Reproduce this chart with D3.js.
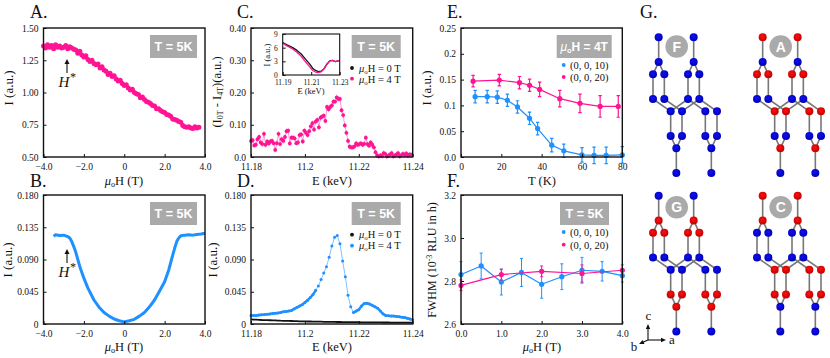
<!DOCTYPE html>
<html>
<head>
<meta charset="utf-8">
<script src="https://d3js.org/d3.v7.min.js"></script>
<style>
  body { margin: 0; background: #fff; }
  svg { display: block; }
  text { font-family: "Liberation Serif", serif; fill: #111; }
</style>
</head>
<body>
<script>
var pink = '#ff1493';
var blue = '#1e90ff';

// panel A
var fieldA = d3.range(-40, 38).map(function(d) { return d / 10; });
var intensityA = [1.36,1.345,1.37,1.35,1.365,1.34,1.37,1.35,1.36,1.345,1.35,1.365,1.34,1.355,1.345,1.335,1.33,1.305,1.32,1.29,1.275,1.285,1.255,1.24,1.25,1.225,1.215,1.22,1.19,1.2,1.175,1.165,1.14,1.15,1.125,1.13,1.105,1.09,1.095,1.07,1.055,1.06,1.035,1.02,1.025,1.0,0.99,0.985,0.96,0.965,0.945,0.93,0.925,0.915,0.9,0.895,0.875,0.875,0.86,0.85,0.845,0.83,0.825,0.815,0.795,0.79,0.785,0.775,0.77,0.745,0.735,0.73,0.735,0.725,0.72,0.735,0.725,0.73];
// panel B
var fieldB = [-3.5,-3.4,-3.2,-3,-2.8,-2.7,-2.6,-2.5,-2.4,-2.2,-2,-1.8,-1.5,-1.25,-1,-0.75,-0.5,-0.25,0,0.25,0.5,0.75,1,1.25,1.5,1.75,2,2.2,2.4,2.5,2.6,2.7,2.8,3,3.2,3.4,3.6,3.8,4];
var intensityB = [0.1225,0.1245,0.1235,0.124,0.122,0.12,0.115,0.108,0.1,0.08,0.064,0.05,0.0335,0.0235,0.016,0.011,0.007,0.0045,0.003,0.0045,0.0065,0.011,0.016,0.024,0.0335,0.046,0.059,0.075,0.096,0.106,0.115,0.12,0.123,0.124,0.1245,0.124,0.125,0.1255,0.1265];
// panel C
var energyC = d3.range(0, 100).map(function(d) { return 11.18 + d * 0.0006; });
var diffC = [0.05,0.052,0.036,0.038,0.055,0.062,0.045,0.04,0.072,0.038,0.048,0.042,0.048,0.05,0.043,0.022,0.043,0.072,0.04,0.055,0.05,0.062,0.08,0.082,0.042,0.06,0.06,0.058,0.043,0.045,0.068,0.07,0.048,0.082,0.075,0.068,0.08,0.095,0.105,0.085,0.11,0.115,0.092,0.122,0.125,0.128,0.112,0.155,0.148,0.155,0.16,0.172,0.172,0.185,0.18,0.18,0.145,0.13,0.098,0.075,0.05,0.032,0.03,0.03,0.033,0.042,0.038,0.04,0.042,0.038,0.041,0.06,0.04,0.035,0.045,0.038,0.03,0.015,0.005,0.002,0.005,0.003,0.012,0.01,0.002,0.004,0.008,0.012,0.002,0.005,0.008,0.012,0.002,0.006,0.01,0.006,0.011,0.004,0.008,0.007];
// panel C inset
var energyInset = [11.19,11.193,11.197,11.2,11.203,11.206,11.209,11.211,11.213,11.215,11.217,11.219,11.221,11.223,11.225,11.227,11.23];
var insetZero = [7.1,6.6,6,5.4,4.6,3.5,2.4,1.5,1,0.75,0.85,1.4,2.4,3.1,3.2,2.95,3.2];
var insetFour = [7,6.4,5.7,5,4.1,2.9,1.8,1,0.65,0.55,0.7,1.3,2.3,3.05,3.2,2.95,3.2];
// panel D
var energyD = d3.range(0, 61).map(function(d) { return 11.18 + d * 0.001; });
var zeroD = [0.0065,0.0062,0.006,0.0058,0.0056,0.0055,0.0053,0.0052,0.005,0.005,0.0048,0.0046,0.0045,0.0045,0.0043,0.0042,0.004,0.004,0.0038,0.0037,0.0036,0.0035,0.0035,0.0034,0.0033,0.0032,0.0032,0.0031,0.003,0.003,0.003,0.0029,0.0028,0.0028,0.0027,0.0027,0.0026,0.0026,0.0025,0.0025,0.0025,0.0024,0.0024,0.0023,0.0023,0.0023,0.0022,0.0022,0.0022,0.0021,0.0021,0.0021,0.002,0.002,0.002,0.002,0.002,0.002,0.002,0.002,0.002];
var fourD = [0.012,0.012,0.012,0.0125,0.013,0.0132,0.0135,0.014,0.0145,0.015,0.0155,0.016,0.017,0.0175,0.018,0.019,0.021,0.023,0.025,0.027,0.03,0.033,0.037,0.041,0.047,0.053,0.062,0.071,0.08,0.093,0.109,0.121,0.1235,0.112,0.088,0.066,0.04,0.024,0.016,0.018,0.02,0.025,0.0285,0.029,0.028,0.026,0.024,0.022,0.018,0.014,0.012,0.0115,0.011,0.011,0.0105,0.01,0.0095,0.009,0.008,0.007,0.006];
// panel E
var tempBlue = [7,13,18,23,28,34,38,45,51,60,66,72,80];
var peak10 = [0.117,0.117,0.116,0.11,0.097,0.075,0.055,0.023,0.012,0.004,0.003,0.003,0.004];
var peak10Err = [0.012,0.012,0.012,0.012,0.012,0.012,0.012,0.013,0.013,0.014,0.016,0.016,0.016];
var tempPink = [6,19,29,34,39,49,59,69,78];
var peak20 = [0.147,0.149,0.144,0.139,0.131,0.113,0.104,0.098,0.098];
var peak20Err = [0.011,0.011,0.012,0.012,0.014,0.016,0.018,0.021,0.021];
// panel F
var fieldBlue = [0,0.5,1,1.5,2,2.5,3,3.5,4];
var fwhm10 = [2.83,2.87,2.795,2.84,2.785,2.82,2.85,2.845,2.825];
var fwhm10Err = [0.06,0.06,0.06,0.065,0.065,0.06,0.06,0.045,0.03];
var fieldPink = [0,1,2,3,4];
var fwhm20 = [2.78,2.83,2.845,2.835,2.85];
var fwhm20Err = [0.025,0.025,0.025,0.04,0.025];
// panel G, atoms measured in the picture
var atomX = [71,176,71,176,54,88,159,193,54,88,159,193,107,141,211,246,107,141,211,246,124,229,124,229];
var atomY = [112,112,186,186,223,223,223,223,297,297,297,297,334,334,334,334,408,408,408,408,445,445,519,519];
var atomLayer = [0,0,1,1,2,2,2,2,3,3,3,3,4,4,4,4,5,5,5,5,6,6,7,7];
var bondPairs = [[0,2],[1,3],[2,4],[2,5],[3,6],[3,7],[4,8],[5,9],[6,10],[7,11],[8,12],[9,13],[10,12],[11,13],[10,14],[11,15],[12,16],[13,17],[14,18],[15,19],[16,20],[17,20],[18,21],[19,21],[20,22],[21,23]];
var structures = [
  {name: 'F', dx: 0, dy: 0, layers: 'bbbbbbbb'},
  {name: 'A', dx: 104, dy: 0, layers: 'rbrbrbrb'},
  {name: 'G', dx: 0, dy: 158.4, layers: 'brrbbrrb'},
  {name: 'C', dx: 104, dy: 158.4, layers: 'rrbbrrbb'}
];

var svg = d3.select('body').append('svg').attr('width', 830).attr('height', 358);

var defs = svg.append('defs');
[['redBall', '#ff1010', '#c00000'], ['blueBall', '#1010f0', '#0000b8']].forEach(function(g) {
  var grad = defs.append('radialGradient').attr('id', g[0]).attr('cx', '45%').attr('cy', '40%').attr('r', '60%');
  grad.append('stop').attr('offset', '0%').attr('stop-color', g[1]);
  grad.append('stop').attr('offset', '100%').attr('stop-color', g[2]);
});

function panel(left, right, top, bottom, xDomain, yDomain, xTicks, yTicks, xFmt, yFmt, fontSize) {
  var size = fontSize || 9.5;
  var x = d3.scaleLinear().domain(xDomain).range([left, right]);
  var y = d3.scaleLinear().domain(yDomain).range([bottom, top]);
  var g = svg.append('g');
  var marks = g.append('g');
  var xAxis = d3.axisBottom(x).tickValues(xTicks).tickFormat(xFmt).tickSizeInner(-3).tickSizeOuter(0).tickPadding(size > 8 ? 6 : 5);
  var yAxis = d3.axisLeft(y).tickValues(yTicks).tickFormat(yFmt).tickSizeInner(-3).tickSizeOuter(0).tickPadding(5);
  var ax = g.append('g').attr('transform', 'translate(0,' + bottom + ')').call(xAxis);
  var ay = g.append('g').attr('transform', 'translate(' + left + ',0)').call(yAxis);
  [ax, ay].forEach(function(a) {
    a.select('.domain').remove();
    a.selectAll('line').attr('stroke', '#111').attr('stroke-width', 1);
    a.selectAll('text').style('font-family', '"Liberation Serif", serif').style('font-size', size + 'px').attr('fill', '#111');
  });
  g.append('rect').attr('x', left).attr('y', top).attr('width', right - left).attr('height', bottom - top)
    .attr('fill', 'none').attr('stroke', '#111').attr('stroke-width', size > 8 ? 1.4 : 1.1);
  return {x: x, y: y, g: g, marks: marks};
}

function drawLine(p, xs, ys, color, width, opacity) {
  var line = d3.line().x(function(d) { return p.x(d[0]); }).y(function(d) { return p.y(d[1]); });
  p.marks.append('path').attr('d', line(d3.zip(xs, ys))).attr('fill', 'none').attr('stroke', color)
    .attr('stroke-width', width).attr('stroke-opacity', opacity || 1).attr('stroke-linejoin', 'round');
}

function drawDots(p, xs, ys, color, r) {
  p.marks.selectAll(null).data(d3.zip(xs, ys)).enter().append('circle')
    .attr('cx', function(d) { return p.x(d[0]); })
    .attr('cy', function(d) { return p.y(d[1]); })
    .attr('r', r).attr('fill', color);
}

function drawErrors(p, xs, ys, errs, color, cap, width) {
  d3.zip(xs, ys, errs).forEach(function(d) {
    var px = p.x(d[0]);
    p.marks.append('path')
      .attr('d', 'M' + px + ',' + p.y(d[1] - d[2]) + 'V' + p.y(d[1] + d[2]) +
        'M' + (px - cap) + ',' + p.y(d[1] - d[2]) + 'h' + (2 * cap) +
        'M' + (px - cap) + ',' + p.y(d[1] + d[2]) + 'h' + (2 * cap))
      .attr('fill', 'none').attr('stroke', color).attr('stroke-width', width);
  });
}

function label(x, y, str, size, rotate) {
  var t = svg.append('text').attr('font-size', size).attr('text-anchor', 'middle');
  if (rotate) t.attr('transform', 'translate(' + x + ',' + y + ') rotate(-90)');
  else t.attr('x', x).attr('y', y);
  return t.text(str);
}

function fieldLabel(x, y, rest, size, anchor) {
  var t = svg.append('text').attr('x', x).attr('y', y).attr('font-size', size).attr('text-anchor', anchor || 'middle');
  t.append('tspan').attr('font-style', 'italic').text('μ');
  t.append('tspan').attr('font-size', size * 0.65).attr('dy', 2).text('o');
  t.append('tspan').attr('dy', -2).text(rest);
}

function title(x, y, str) {
  svg.append('text').attr('x', x).attr('y', y).attr('font-size', 18).text(str);
}

function badge(x, y, w, h, str) {
  svg.append('rect').attr('x', x).attr('y', y).attr('width', w).attr('height', h).attr('fill', '#aaaaaa');
  svg.append('text').attr('x', x + w / 2).attr('y', y + h / 2 + 4.3).attr('text-anchor', 'middle')
    .style('font-family', '"Liberation Sans", sans-serif').style('fill', '#fff')
    .attr('font-size', 12.5).attr('font-weight', 'bold').text(str);
}

function legendDot(x, y, color) {
  svg.append('circle').attr('cx', x).attr('cy', y).attr('r', 1.9).attr('fill', color);
}

function arrowAt(x, y0, y1) {
  var dir = y1 < y0 ? 1 : -1;
  svg.append('line').attr('x1', x).attr('x2', x).attr('y1', y0).attr('y2', y1 + dir * 3).attr('stroke', '#111').attr('stroke-width', 1.1);
  svg.append('path').attr('d', 'M' + x + ',' + y1 + 'l-2.5,' + (dir * 5) + 'h5z').attr('fill', '#111');
}

function hStar(x, y) {
  var t = svg.append('text').attr('x', x).attr('y', y).attr('font-size', 15).attr('font-style', 'italic').attr('text-anchor', 'middle');
  t.append('tspan').text('H');
  t.append('tspan').attr('font-size', 12).attr('dy', -6).text('*');
}

var f1 = d3.format('.1f');
var f2 = d3.format('.2f');
var f3 = function(d) { return d === 0 ? '0' : d3.format('.3f')(d); };
var fieldFmt = function(d) { return d === 0 ? '0' : d3.format('.1f')(d); };
var energyFmt = function(d) { return d3.format('.2f')(d).replace(/(\.\d)0$/, '$1'); };

// A
var pA = panel(43.5, 205, 28, 157, [-4, 4], [0.5, 1.5], [-4, -2, 0, 2, 4], [0.5, 0.75, 1, 1.25, 1.5], fieldFmt, f2);
drawLine(pA, fieldA, intensityA, pink, 3);
drawDots(pA, fieldA, intensityA, pink, 2.5);
title(30, 18, 'A.');
badge(150, 35, 47, 23, 'T = 5K');
label(13, 88, 'I (a.u.)', 13, true);
fieldLabel(124, 185, 'H (T)', 12.5);
arrowAt(67, 73, 59);
hStar(67, 87);

// B
var pB = panel(43.5, 205, 195, 324, [-4, 4], [0, 0.18], [-4, -2, 0, 2, 4], [0, 0.045, 0.09, 0.135, 0.18], fieldFmt, f3);
drawLine(pB, fieldB, intensityB, blue, 3);
title(30, 187, 'B.');
badge(150, 202, 47, 23, 'T = 5K');
label(12, 260, 'I (a.u.)', 13, true);
fieldLabel(124, 351, 'H (T)', 12.5);
arrowAt(67, 263, 249);
hStar(67, 277);

// C
var pC = panel(251, 412.7, 28, 157, [11.18, 11.24], [0, 0.4], [11.18, 11.2, 11.22, 11.24], [0, 0.1, 0.2, 0.3, 0.4], energyFmt, function(d) { return d === 0 ? '0.0' : d3.format('.2f')(d); });
drawLine(pC, energyC, diffC, pink, 0.6, 0.7);
drawErrors(pC, energyC, diffC, diffC.map(function() { return 0.008; }), pink, 0, 0.5);
drawDots(pC, energyC, diffC, pink, 1.9);
title(237, 18, 'C.');
badge(351.7, 35, 49, 23, 'T = 5K');
var cY = svg.append('text').attr('transform', 'translate(221,92) rotate(-90)').attr('font-size', 12.5).attr('text-anchor', 'middle');
cY.append('tspan').text('(I');
cY.append('tspan').attr('font-size', 8).attr('dy', 2).text('0T');
cY.append('tspan').attr('dy', -2).text(' - I');
cY.append('tspan').attr('font-size', 8).attr('dy', 2).text('4T');
cY.append('tspan').attr('dy', -2).text(')(a.u.)');
label(332, 185, 'E (keV)', 12.5);
legendDot(352, 68, '#111');
fieldLabel(359, 71.5, 'H = 0  T', 10.5, 'start');
legendDot(352, 78.7, pink);
fieldLabel(359, 82.5, 'H = 4  T', 10.5, 'start');

// C inset
var pI = panel(282.7, 339.7, 34, 75, [11.19, 11.23], [0, 9], [11.19, 11.21, 11.23], [0, 3, 6, 9], d3.format('.2f'), d3.format('d'), 7.5);
drawLine(pI, energyInset, insetZero, '#111', 1.3);
drawLine(pI, energyInset, insetFour, pink, 1.3);
label(270, 55, 'I (a.u.)', 8.5, true);
label(311, 94, 'E (keV)', 8.5);

// D, the tails of the scan are so dense that they read as a thick line
var tailD = fourD.map(function(d, i) { return energyD[i] < 11.205 || energyD[i] > 11.217 ? d : null; });
var pD = panel(251, 412.7, 195, 324, [11.18, 11.24], [0, 0.18], [11.18, 11.2, 11.22, 11.24], [0, 0.045, 0.09, 0.135, 0.18], energyFmt, f3);
drawLine(pD, energyD, zeroD, '#111', 1.8);
drawLine(pD, energyD, fourD, blue, 0.8, 0.7);
pD.marks.append('path')
  .attr('d', d3.line().defined(function(d) { return d[1] !== null; })
    .x(function(d) { return pD.x(d[0]); }).y(function(d) { return pD.y(d[1]); })(d3.zip(energyD, tailD)))
  .attr('fill', 'none').attr('stroke', blue).attr('stroke-width', 2.5).attr('stroke-linejoin', 'round');
drawDots(pD, energyD, fourD, blue, 1.5);
title(237, 187, 'D.');
badge(351.7, 202, 49, 23, 'T = 5K');
label(217, 260, 'I (a.u.)', 13, true);
label(332, 351, 'E (keV)', 12.5);
legendDot(352, 234.7, '#111');
fieldLabel(359, 238, 'H = 0  T', 10.5, 'start');
legendDot(352, 245.7, blue);
fieldLabel(359, 249, 'H = 4  T', 10.5, 'start');

// E
var pE = panel(461, 622.3, 28, 157, [0, 80], [0, 0.25], [0, 20, 40, 60, 80], [0, 0.05, 0.1, 0.15, 0.2, 0.25], d3.format('d'), function(d) { return d === 0 ? '0.0' : String(d); });
drawLine(pE, tempBlue, peak10, blue, 1.2);
drawErrors(pE, tempBlue, peak10, peak10Err, blue, 1.7, 1.2);
drawDots(pE, tempBlue, peak10, blue, 2.6);
drawLine(pE, tempPink, peak20, pink, 1.2);
drawErrors(pE, tempPink, peak20, peak20Err, pink, 1.7, 1.2);
drawDots(pE, tempPink, peak20, pink, 2.6);
title(447, 18, 'E.');
svg.append('rect').attr('x', 556.7).attr('y', 35).attr('width', 55).attr('height', 23).attr('fill', '#aaaaaa');
var eBadge = svg.append('text').attr('x', 584.2).attr('y', 50.5).attr('text-anchor', 'middle').attr('font-size', 12)
  .style('font-family', '"Liberation Sans", sans-serif').style('fill', '#fff').attr('font-weight', 'bold');
eBadge.append('tspan').attr('font-style', 'italic').attr('font-weight', 'normal').text('μ');
eBadge.append('tspan').attr('font-size', 7.5).attr('dy', 2).text('o');
eBadge.append('tspan').attr('dy', -2).text('H = 4T');
label(431, 88, 'I (a.u.)', 13, true);
label(542, 185, 'T (K)', 12.5);
legendDot(563.7, 65, blue);
svg.append('text').attr('x', 570).attr('y', 69).attr('font-size', 10.5).text('(0, 0, 10)');
legendDot(563.7, 77, pink);
svg.append('text').attr('x', 570).attr('y', 81).attr('font-size', 10.5).text('(0, 0, 20)');

// F
var pF = panel(461, 622.3, 195, 324, [0, 4], [2.6, 3.2], [0, 1, 2, 3, 4], [2.6, 2.8, 3, 3.2], f1, f1);
drawLine(pF, fieldBlue, fwhm10, blue, 1.2);
drawErrors(pF, fieldBlue, fwhm10, fwhm10Err, blue, 1.5, 1);
drawDots(pF, fieldBlue, fwhm10, blue, 2.6);
drawLine(pF, fieldPink, fwhm20, pink, 1.2);
drawErrors(pF, fieldPink, fwhm20, fwhm20Err, pink, 1.5, 1);
drawDots(pF, fieldPink, fwhm20, pink, 2.6);
title(447, 187, 'F.');
badge(560, 202, 49, 23, 'T = 5K');
var fY = svg.append('text').attr('transform', 'translate(436,260) rotate(-90)').attr('font-size', 12).attr('text-anchor', 'middle');
fY.append('tspan').text('FWHM (10');
fY.append('tspan').attr('font-size', 8).attr('dy', -4).text('-3');
fY.append('tspan').attr('dy', 4).text(' RLU in h)');
fieldLabel(542, 351, 'H (T)', 12.5);
legendDot(563.7, 232, blue);
svg.append('text').attr('x', 570).attr('y', 236).attr('font-size', 10.5).text('(0, 0, 10)');
legendDot(563.7, 244.7, pink);
svg.append('text').attr('x', 570).attr('y', 248.7).attr('font-size', 10.5).text('(0, 0, 20)');

// G
title(640, 18, 'G.');
var molX = d3.scaleLinear().domain([0, 3]).range([635, 636]);
var molY = d3.scaleLinear().domain([0, 3]).range([0, 1]);
structures.forEach(function(s) {
  var g = svg.append('g').attr('transform', 'translate(' + s.dx + ',' + s.dy + ')');
  g.selectAll('line').data(bondPairs).enter().append('line')
    .attr('x1', function(d) { return molX(atomX[d[0]]); })
    .attr('y1', function(d) { return molY(atomY[d[0]]); })
    .attr('x2', function(d) { return molX(atomX[d[1]]); })
    .attr('y2', function(d) { return molY(atomY[d[1]]); })
    .attr('stroke', '#777').attr('stroke-width', 1.6);
  g.selectAll('circle.atom').data(atomX).enter().append('circle').attr('class', 'atom')
    .attr('cx', function(d) { return molX(d); })
    .attr('cy', function(d, i) { return molY(atomY[i]); })
    .attr('r', 4)
    .attr('fill', function(d, i) { return s.layers[atomLayer[i]] === 'r' ? 'url(#redBall)' : 'url(#blueBall)'; });
  var cy = s.dy > 0 ? 48.9 : 46.5;
  g.append('circle').attr('cx', 676.7).attr('cy', cy).attr('r', 11.3).attr('fill', '#aaaaaa');
  g.append('text').attr('x', 676.7).attr('y', cy + 5).attr('text-anchor', 'middle')
    .style('font-family', '"Liberation Sans", sans-serif').style('fill', '#fff')
    .attr('font-size', 14).attr('font-weight', 'bold').text(s.name);
});

// c a b triad
function triad(x2, y2) {
  var dx = x2 - 648, dy = y2 - 340, len = Math.sqrt(dx * dx + dy * dy), ux = dx / len, uy = dy / len;
  svg.append('line').attr('x1', 648).attr('y1', 340).attr('x2', x2 - ux * 3).attr('y2', y2 - uy * 3).attr('stroke', '#111').attr('stroke-width', 1.1);
  svg.append('path').attr('d', 'M' + x2 + ',' + y2 + 'L' + (x2 - ux * 5 - uy * 2.2) + ',' + (y2 - uy * 5 + ux * 2.2) + 'L' + (x2 - ux * 5 + uy * 2.2) + ',' + (y2 - uy * 5 - ux * 2.2) + 'Z').attr('fill', '#111');
}
triad(648, 324);
triad(666, 340);
triad(639, 344);
label(648.5, 320, 'c', 13);
label(672, 343.5, 'a', 13);
label(634, 351, 'b', 13);
</script>
</body>
</html>
